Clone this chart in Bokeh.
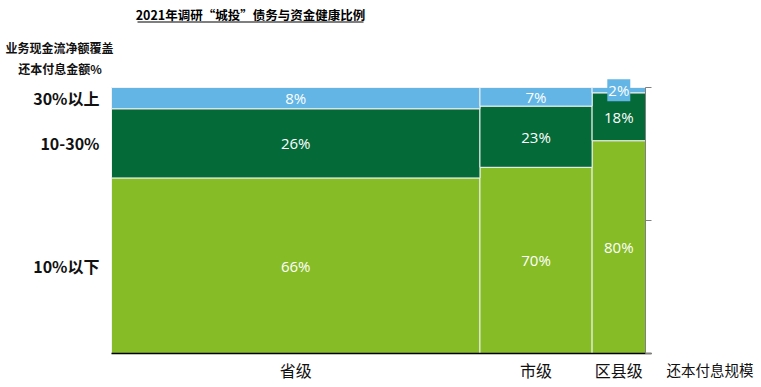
from bokeh.plotting import figure
from bokeh.models import Range1d, ColumnDataSource
from bokeh.core.properties import value
from bokeh.embed import file_html
from bokeh.resources import INLINE

# ---- data ----
levels = ["省级", "市级", "区县级"]
scale_share = [69, 21, 10]          # column widths (还本付息规模 share, %)
pct_above30 = [8, 7, 2]             # 30%以上
pct_10_30 = [26, 23, 18]            # 10-30%
pct_below10 = [66, 70, 80]          # 10%以下
band_names = ["30%以上", "10-30%", "10%以下"]
title_text = "2021年调研“城投”债务与资金健康比例"
ytitle_lines = ["业务现金流净额覆盖", "还本付息金额%"]
xtitle_text = "还本付息规模"
right_ticks = [0, 50, 100]

C_BLUE = "#62B5E5"
C_DARK = "#046A38"
C_GREEN = "#86BC25"
CJK = "Noto Sans CJK SC"
NUM = "Open Sans"

# canvas and mapping (canvas pixels -> data units)
W, H = 761, 387
PX_L, PX_R = 111, 645         # x pixel of data 0 and 100
PY_B, PY_T = 353, 87          # y pixel of data 0 and 100
sx = (PX_R - PX_L) / 100.0
sy = (PY_B - PY_T) / 100.0
x0 = -PX_L / sx
x1 = x0 + W / sx
y1 = PY_B / sy
y0 = y1 - H / sy

def dx(px):
    return (px - PX_L) / sx

def dy(py):
    return (PY_B - py) / sy

p = figure(width=W, height=H, output_backend="svg", toolbar_location=None, title=None,
           x_range=Range1d(x0, x1), y_range=Range1d(y0, y1),
           min_border=0)
p.axis.visible = False
p.grid.visible = False
p.outline_line_color = None
p.background_fill_color = "white"
p.border_fill_color = "white"

# column geometry from shares
lefts, rights, centers = [], [], []
acc = 0
for s in scale_share:
    lefts.append(acc)
    rights.append(acc + s)
    centers.append(acc + s / 2)
    acc += s

b0 = [0] * 3
t0 = list(pct_below10)
b1 = t0
t1 = [a + b for a, b in zip(pct_below10, pct_10_30)]
b2 = t1
t2 = [a + b for a, b in zip(t1, pct_above30)]

for bot, top, col in [(b0, t0, C_GREEN), (b1, t1, C_DARK), (b2, t2, C_BLUE)]:
    src = ColumnDataSource(dict(left=lefts, right=rights, bottom=bot, top=top))
    p.quad(left="left", right="right", bottom="bottom", top="top", source=src,
           fill_color=col, line_color="#f2f2f2", line_width=1)

# value labels
lab_x, lab_y, lab_t = [], [], []
for i in range(3):
    lab_x += [centers[i], centers[i]]
    lab_y += [(b0[i] + t0[i]) / 2, (b1[i] + t1[i]) / 2]
    lab_t += [f"{pct_below10[i]}%", f"{pct_10_30[i]}%"]
for i in range(2):
    lab_x.append(centers[i])
    lab_y.append((b2[i] + t2[i]) / 2)
    lab_t.append(f"{pct_above30[i]}%")
p.text(x=lab_x, y=lab_y, text=lab_t,
       text_align="center", text_baseline="middle", text_color="white",
       text_font=value(NUM), text_font_size="15px")
p.text(x=[centers[2]], y=[(b2[2] + t2[2]) / 2], text=[f"{pct_above30[2]}%"],
       text_align="center", text_baseline="middle", text_color="white",
       text_font=value(NUM), text_font_size="15px",
       background_fill_color=C_BLUE, padding=1)

# axes drawn in data space
p.segment(x0=[0], y0=[0], x1=[dx(651)], y1=[0], line_color="black", line_width=1.3)
p.segment(x0=[100], y0=[0], x1=[100], y1=[100], line_color="#808080", line_width=1)
p.segment(x0=[100] * len(right_ticks), y0=right_ticks,
          x1=[dx(651)] * len(right_ticks), y1=right_ticks,
          line_color="#808080", line_width=1)

# band names at the first column's segment centers
band_centers = [(b2[0] + t2[0]) / 2, (b1[0] + t1[0]) / 2, (b0[0] + t0[0]) / 2]
p.text(x=[dx(99)] * 3, y=band_centers, text=band_names,
       text_align="right", text_baseline="middle", text_color="#111111",
       text_font=value(CJK), text_font_style="bold", text_font_size="16px")

# level names under column centers
p.text(x=centers, y=[dy(369)] * 3, text=levels,
       text_align="center", text_baseline="middle", text_color="#111111",
       text_font=value(CJK), text_font_size="16px")
p.text(x=[dx(666)], y=[dy(369)], text=[xtitle_text],
       text_align="left", text_baseline="middle", text_color="#111111",
       text_font=value(CJK), text_font_size="14.5px")

# titles
p.text(x=[dx(250)], y=[dy(14)], text=[title_text],
       text_align="center", text_baseline="middle", text_color="black",
       text_font=value(CJK), text_font_style="bold", text_font_size="12.5px")
p.segment(x0=[dx(137)], y0=[dy(21.5)], x1=[dx(363)], y1=[dy(21.5)],
          line_color="black", line_width=1.2)
p.text(x=[dx(59), dx(59.5)], y=[dy(47), dy(68)], text=ytitle_lines,
       text_align="center", text_baseline="middle", text_color="#111111",
       text_font=value(CJK), text_font_style="bold", text_font_size="12px")

open("out.html", "w").write(file_html(p, INLINE))
